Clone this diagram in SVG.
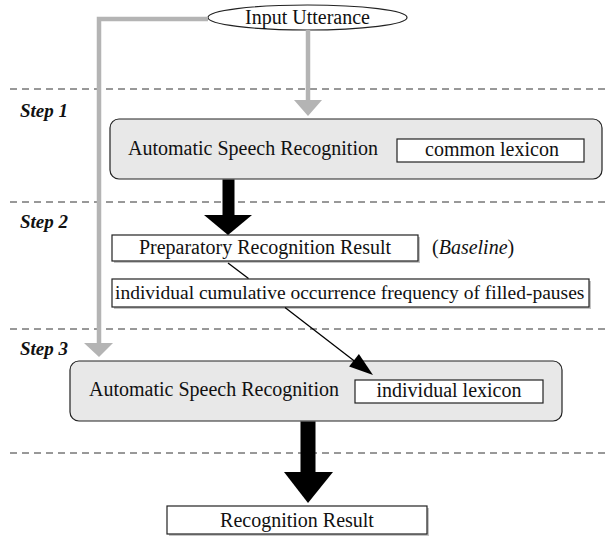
<svg xmlns="http://www.w3.org/2000/svg" width="606" height="538" viewBox="0 0 606 538">
<style>
.t{font-family:"Liberation Serif","Times New Roman",serif;font-size:20px;fill:#111}
.step{font-family:"Liberation Serif","Times New Roman",serif;font-size:19px;font-weight:bold;font-style:italic;fill:#111}
.dash{stroke:#333;stroke-width:1;stroke-dasharray:7 5;fill:none}
.big{fill:#e8e8e8;stroke:#222;stroke-width:1.2}
.box{fill:#fff;stroke:#222;stroke-width:1.2}
.shadow{fill:#c4c4c4}
.gray{stroke:#b4b4b4;stroke-width:4.5;fill:none}
.grayh{fill:#b4b4b4}
.blk{fill:#000}
.thin{stroke:#000;stroke-width:1.3;fill:none}
</style>
<rect width="606" height="538" fill="#fff"/>
<g id="separators">
<line class="dash" x1="10" y1="89" x2="606" y2="89"/>
<line class="dash" x1="10" y1="202" x2="606" y2="202"/>
<line class="dash" x1="10" y1="329" x2="606" y2="329"/>
<line class="dash" x1="10" y1="453" x2="606" y2="453"/>
</g>
<g id="step-labels">
<text class="step" x="20" y="117">Step 1</text>
<text class="step" x="20" y="228">Step 2</text>
<text class="step" x="20" y="355">Step 3</text>
</g>
<g id="input-utterance">
<ellipse cx="307.5" cy="17.5" rx="99.5" ry="12.5" fill="#fff" stroke="#222" stroke-width="1.2"/>
<text class="t" x="307.5" y="24" text-anchor="middle">Input Utterance</text>
</g>
<g id="asr-step1">
<rect class="big" x="110" y="119" width="492" height="60" rx="9"/>
<text class="t" x="128" y="155">Automatic Speech Recognition</text>
</g>
<g id="common-lexicon">
<rect class="box" x="397" y="139" width="187" height="23"/>
<text class="t" x="492" y="156" text-anchor="middle">common lexicon</text>
</g>
<g id="preparatory-result">
<rect class="shadow" x="114" y="237" width="306" height="26"/>
<rect class="box" x="112" y="235" width="306" height="26"/>
<text class="t" x="265" y="254" text-anchor="middle">Preparatory Recognition Result</text>
</g>
<g id="baseline-label">
<text class="t" x="432" y="254">(<tspan font-style="italic">Baseline</tspan>)</text>
</g>
<g id="frequency">
<rect class="shadow" x="114" y="281" width="477" height="28"/>
<rect class="box" x="112" y="279" width="477" height="28"/>
<text class="t" x="115" y="299" style="font-size:19.5px">individual cumulative occurrence frequency of filled-pauses</text>
</g>
<g id="asr-step3">
<rect class="big" x="70" y="361" width="492" height="60" rx="9"/>
<text class="t" x="89" y="396">Automatic Speech Recognition</text>
</g>
<g id="individual-lexicon">
<rect class="box" x="355" y="380" width="188" height="23"/>
<text class="t" x="449" y="397" text-anchor="middle">individual lexicon</text>
</g>
<g id="recognition-result">
<rect class="shadow" x="169" y="508" width="260" height="28"/>
<rect class="box" x="167" y="506" width="260" height="28"/>
<text class="t" x="297" y="527" text-anchor="middle">Recognition Result</text>
</g>
<g id="connectors">
<path class="gray" d="M208,19 H99 V344"/>
<polygon class="grayh" points="84,343 113,343 99,357"/>
<path class="gray" d="M308,30 V101"/>
<polygon class="grayh" points="294,100 322,100 308,116"/>
<rect class="blk" x="222.5" y="179.5" width="12" height="36"/>
<polygon class="blk" points="204,215 252,215 228,235"/>
<line class="thin" x1="228" y1="263" x2="248.5" y2="278.5"/>
<line class="thin" x1="285" y1="307.5" x2="355" y2="361.5"/>
<polygon class="blk" points="349.1,366.6 358.9,354.0 373,375"/>
<rect class="blk" x="300.5" y="421.5" width="15" height="51"/>
<polygon class="blk" points="284,472 333,472 308,503"/>
</g>
</svg>
